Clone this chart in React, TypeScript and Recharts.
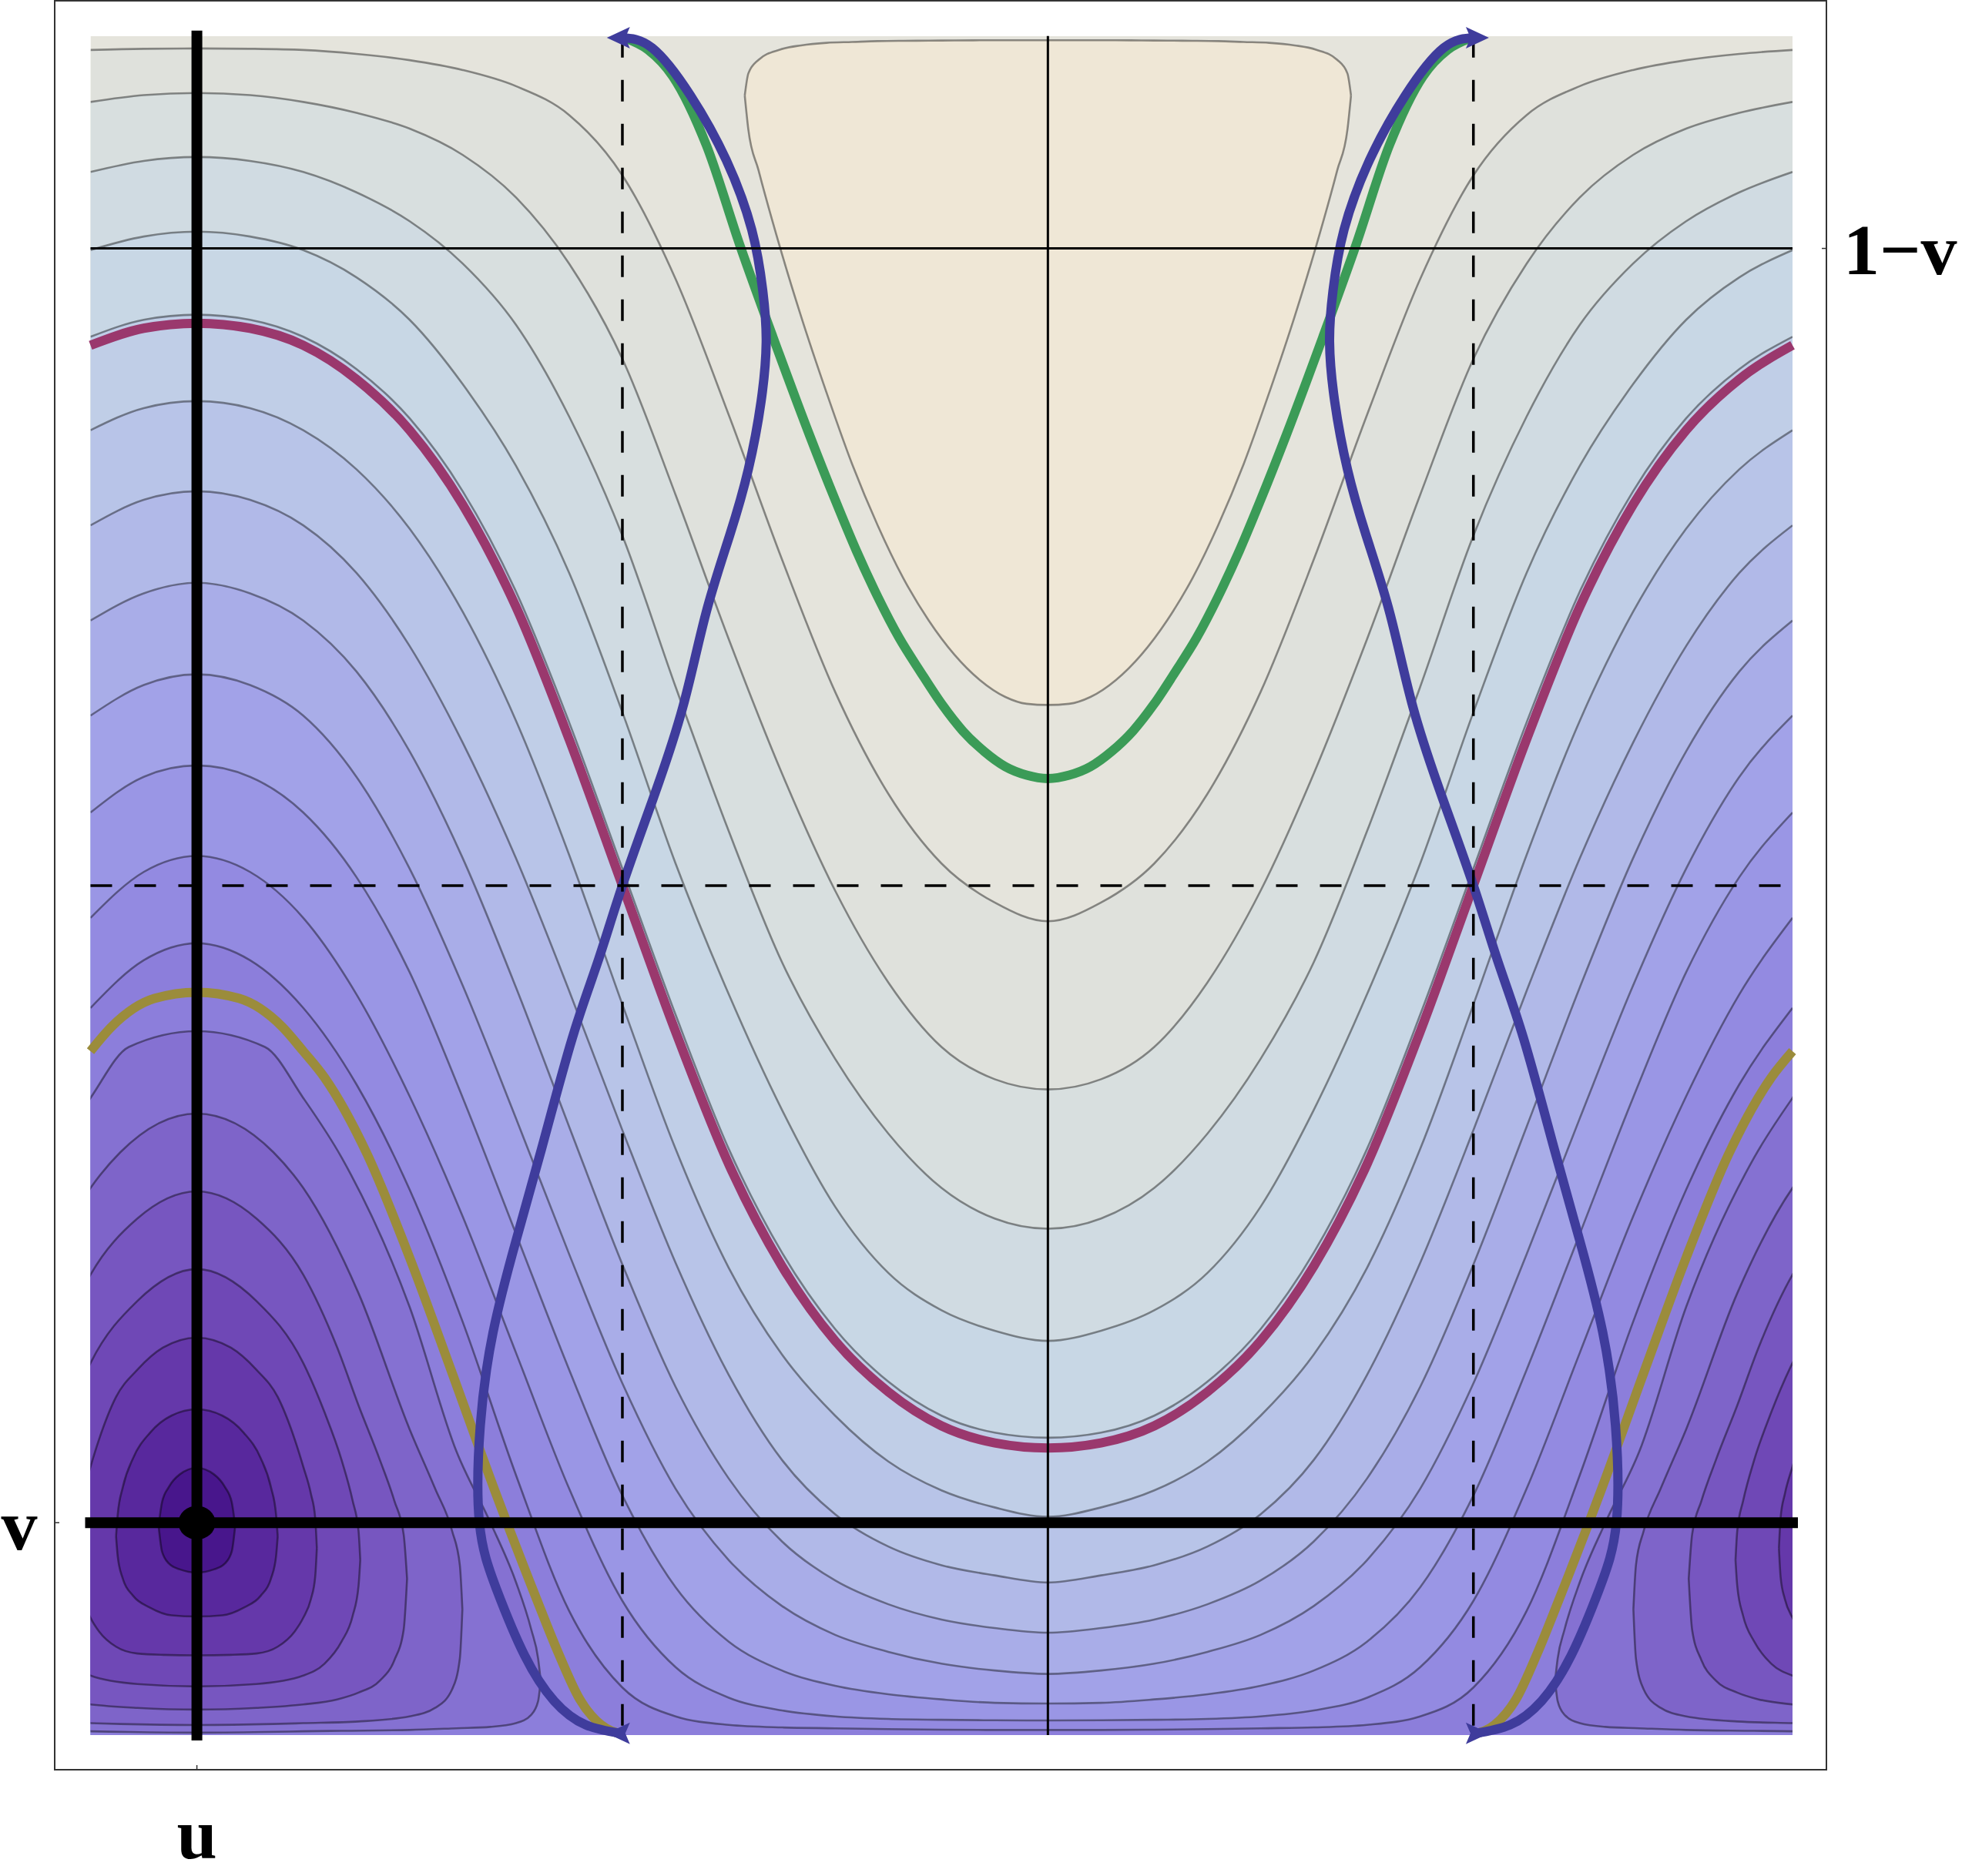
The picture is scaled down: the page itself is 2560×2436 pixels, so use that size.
import React from 'react';
import { ComposedChart, Area, Line, XAxis, YAxis, Scatter } from 'recharts';

// x is measured in units of pi from u (u = 0); y in [0, 1]; v = 1/8
const X_DOMAIN: [number, number] = [-0.125, 1.875];
const Y_DOMAIN: [number, number] = [0, 1];

const X_TICKS = [0];
const X_TICK_LABELS = ['u'];
const Y_TICKS_LEFT = [0.125];
const Y_LABELS_LEFT = ['v'];
const Y_TICKS_RIGHT = [0.875];
const Y_LABELS_RIGHT = ['1\u2212v'];

// sample positions of the open contour lines (0 .. 1, the curves are mirrored about x = 0 and x = 1)
const GRID_X = [0, 0.0625, 0.125, 0.1875, 0.25, 0.3125, 0.375, 0.4375, 0.5, 0.5625, 0.625, 0.6875, 0.75, 0.8125, 0.875, 0.9375, 1];

const C_L19 = [0.9927, 0.9925, 0.9918, 0.9895, 0.9858, 0.98, 0.9705, 0.9535, 0.918, 0.857, 0.777, 0.692, 0.614, 0.554, 0.513, 0.49, 0.479];
const C_L18 = [0.9665, 0.9652, 0.9612, 0.9548, 0.9455, 0.93, 0.905, 0.866, 0.81, 0.73, 0.645, 0.566, 0.497, 0.443, 0.405, 0.386, 0.38];
const C_L17 = [0.9288, 0.9265, 0.92, 0.908, 0.891, 0.866, 0.83, 0.776, 0.706, 0.617, 0.532, 0.455, 0.398, 0.354, 0.322, 0.304, 0.298];
const C_L16 = [0.8849, 0.882, 0.874, 0.858, 0.833, 0.795, 0.747, 0.684, 0.602, 0.513, 0.436, 0.368, 0.311, 0.272, 0.25, 0.238, 0.232];
const C_L15 = [0.836, 0.833, 0.823, 0.804, 0.775, 0.732, 0.673, 0.596, 0.51, 0.424, 0.345, 0.284, 0.239, 0.208, 0.188, 0.178, 0.175];
const C_L14 = [0.7851, 0.781, 0.768, 0.745, 0.71, 0.661, 0.597, 0.518, 0.43, 0.345, 0.275, 0.224, 0.188, 0.161, 0.144, 0.134, 0.1285];
const C_L13 = [0.7321, 0.727, 0.712, 0.684, 0.641, 0.584, 0.516, 0.438, 0.356, 0.278, 0.212, 0.162, 0.13, 0.111, 0.1, 0.094, 0.0898];
const C_L12 = [0.6782, 0.672, 0.656, 0.626, 0.579, 0.516, 0.44, 0.358, 0.277, 0.205, 0.151, 0.114, 0.091, 0.077, 0.068, 0.063, 0.0603];
const C_L11 = [0.6243, 0.618, 0.6, 0.564, 0.51, 0.441, 0.363, 0.283, 0.207, 0.145, 0.103, 0.076, 0.059, 0.049, 0.042, 0.038, 0.036];
const C_L10 = [0.5707, 0.564, 0.543, 0.505, 0.449, 0.375, 0.295, 0.215, 0.141, 0.087, 0.055, 0.038, 0.029, 0.024, 0.021, 0.019, 0.0186];
const C_L9 = [0.5174, 0.508, 0.481, 0.436, 0.376, 0.305, 0.225, 0.145, 0.079, 0.04, 0.022, 0.0145, 0.011, 0.0095, 0.009, 0.0087, 0.0086];
const C_L8 = [0.466, 0.456, 0.428, 0.383, 0.321, 0.243, 0.153, 0.073, 0.028, 0.011, 0.006, 0.0045, 0.004, 0.0035, 0.0032, 0.003, 0.003];

// magenta curve on the same grid
const MAGENTA = [0.831, 0.828, 0.818, 0.798, 0.768, 0.724, 0.664, 0.586, 0.5, 0.414, 0.336, 0.276, 0.232, 0.202, 0.182, 0.172, 0.169];

// closed contours round (u, v): [x, lower y, upper y], x >= 0 (last row is the right-hand tip)
const OV1 = [[0, 0.0956, 0.1573], [0.02, 0.0975, 0.1535], [0.033, 0.101, 0.146], [0.041, 0.108, 0.137], [0.045, 0.123, 0.123]];
const OV2 = [[0, 0.0698, 0.1917], [0.03, 0.0705, 0.188], [0.055, 0.075, 0.178], [0.075, 0.082, 0.163], [0.087, 0.092, 0.146], [0.093, 0.105, 0.13], [0.095, 0.117, 0.117]];
const OV3 = [[0, 0.0469, 0.2339], [0.04, 0.0472, 0.228], [0.07, 0.048, 0.215], [0.095, 0.052, 0.199], [0.115, 0.061, 0.174], [0.125, 0.069, 0.158], [0.134, 0.08, 0.142], [0.139, 0.093, 0.128], [0.141, 0.11, 0.11]];
const OV4 = [[0, 0.0286, 0.2743], [0.07, 0.03, 0.2555], [0.125, 0.035, 0.219], [0.15, 0.042, 0.19], [0.17, 0.055, 0.162], [0.183, 0.07, 0.138], [0.19, 0.088, 0.12], [0.192, 0.103, 0.103]];
const OV5 = [[0, 0.015, 0.32], [0.07, 0.016, 0.304], [0.125, 0.018, 0.271], [0.165, 0.021, 0.228], [0.19, 0.025, 0.194], [0.215, 0.032, 0.162], [0.232, 0.044, 0.138], [0.243, 0.062, 0.118], [0.247, 0.092, 0.092]];
const OV6 = [[0, 0.0059, 0.3658], [0.09, 0.0065, 0.343], [0.125, 0.007, 0.322], [0.19, 0.008, 0.26], [0.25, 0.011, 0.18], [0.28, 0.016, 0.145], [0.3, 0.027, 0.12], [0.309, 0.045, 0.1], [0.312, 0.074, 0.074]];
const OV7 = [[0, 0.0014, 0.4143], [0.08, 0.0018, 0.405], [0.125, 0.0022, 0.375], [0.17, 0.0025, 0.34], [0.25, 0.003, 0.252], [0.305, 0.004, 0.167], [0.345, 0.0048, 0.125], [0.375, 0.007, 0.09], [0.393, 0.012, 0.062], [0.401, 0.02, 0.045], [0.404, 0.032, 0.032]];

// beige closed region near the top (x <= 1, mirrored about x = 1)
const BEIGE_X = [0.6438, 0.648, 0.66, 0.685, 0.71, 0.74, 0.77, 0.8, 0.83, 0.86, 0.89, 0.92, 0.95, 0.975, 1];
const BEIGE_LO = [0.965, 0.945, 0.921, 0.876, 0.835, 0.79, 0.748, 0.712, 0.681, 0.656, 0.636, 0.621, 0.611, 0.607, 0.6063];
const BEIGE_HI = [0.965, 0.978, 0.986, 0.992, 0.9945, 0.996, 0.9965, 0.997, 0.9972, 0.9973, 0.9974, 0.9975, 0.9975, 0.9975, 0.9975];

// green curve (x <= 1, mirrored about x = 1)
const GREEN = [[0.5045, 0.9986], [0.53, 0.992], [0.5594, 0.9762], [0.5988, 0.9356], [0.638, 0.877], [0.677, 0.8227], [0.72, 0.765], [0.75, 0.727], [0.775, 0.697], [0.8, 0.67], [0.825, 0.646], [0.85, 0.626], [0.875, 0.607], [0.9, 0.591], [0.925, 0.579], [0.95, 0.57], [0.975, 0.565], [1, 0.563]];

// olive curve (x >= 0 half, mirrored about x = 0 and x = 2)
const OLIVE = [[0, 0.4372], [0.05, 0.4335], [0.1, 0.417], [0.125, 0.4025], [0.15, 0.387], [0.2, 0.342], [0.25, 0.281], [0.3, 0.213], [0.35, 0.144], [0.4, 0.079], [0.425, 0.048], [0.45, 0.021], [0.475, 0.006], [0.5, 0.0005]];

// blue trajectory, left branch (mirrored about x = 1 for the right branch)
const BLUE = [[0.498, 0.999], [0.535, 0.993], [0.58, 0.965], [0.622, 0.927], [0.652, 0.886], [0.665, 0.85], [0.669, 0.82], [0.663, 0.785], [0.648, 0.745], [0.626, 0.706], [0.598, 0.66], [0.571, 0.605], [0.536, 0.551], [0.5, 0.5], [0.471, 0.455], [0.441, 0.41], [0.405, 0.345], [0.375, 0.291], [0.348, 0.237], [0.333, 0.182], [0.332, 0.125], [0.352, 0.086], [0.385, 0.047], [0.42, 0.02], [0.457, 0.006], [0.498, 0.001]];

const BAND_COLORS = ['#48168c', '#58289d', '#6538aa', '#6f48b6', '#7756c0', '#7e64c9', '#8571d2', '#8c7edb', '#938ae1', '#9a96e5', '#a2a2e8', '#a9ade8', '#b1b9e8', '#b8c4e8', '#c0cee7', '#c8d7e5', '#d0dbe2', '#d8dfdf', '#dfe1dc', '#e5e4dc', '#efe7d6'];

const OPEN = [
  { v: C_L19, band: 18 }, { v: C_L18, band: 17 }, { v: C_L17, band: 16 }, { v: C_L16, band: 15 },
  { v: C_L15, band: 14 }, { v: C_L14, band: 13 }, { v: C_L13, band: 12 }, { v: C_L12, band: 11 },
  { v: C_L11, band: 10 }, { v: C_L10, band: 9 }, { v: C_L9, band: 8 }, { v: C_L8, band: 7 },
];
const OVALS = [
  { s: OV7, band: 6 }, { s: OV6, band: 5 }, { s: OV5, band: 4 }, { s: OV4, band: 3 },
  { s: OV3, band: 2 }, { s: OV2, band: 1 }, { s: OV1, band: 0 },
];

function fullCurve(vals: number[]) {
  const pts: { x: number; y: number }[] = [];
  pts.push({ x: -GRID_X[2], y: vals[2] });
  pts.push({ x: -GRID_X[1], y: vals[1] });
  GRID_X.forEach((x, i) => pts.push({ x, y: vals[i] }));
  for (let k = 1; k <= 14; k++) pts.push({ x: 1 + GRID_X[k], y: vals[16 - k] });
  return pts;
}

function ovalRange(s: number[][], c: number) {
  const pts: { x: number; r: number[] }[] = [];
  for (let i = s.length - 1; i >= 1; i--) pts.push({ x: c - s[i][0], r: [s[i][1], s[i][2]] });
  for (let i = 0; i < s.length; i++) pts.push({ x: c + s[i][0], r: [s[i][1], s[i][2]] });
  return pts;
}

function ovalBranch(s: number[][], c: number, col: number) {
  const pts: { x: number; y: number }[] = [];
  for (let i = s.length - 1; i >= 1; i--) pts.push({ x: c - s[i][0], y: s[i][col] });
  for (let i = 0; i < s.length; i++) pts.push({ x: c + s[i][0], y: s[i][col] });
  return pts;
}

function mirrored(xs: number[], ys: number[]) {
  const pts: { x: number; y: number }[] = [];
  xs.forEach((x, i) => pts.push({ x, y: ys[i] }));
  for (let i = xs.length - 2; i >= 0; i--) pts.push({ x: 2 - xs[i], y: ys[i] });
  return pts;
}

const beigeRange = (() => {
  const pts: { x: number; r: number[] }[] = [];
  BEIGE_X.forEach((x, i) => pts.push({ x, r: [BEIGE_LO[i], BEIGE_HI[i]] }));
  for (let i = BEIGE_X.length - 2; i >= 0; i--) pts.push({ x: 2 - BEIGE_X[i], r: [BEIGE_LO[i], BEIGE_HI[i]] });
  return pts;
})();
const beigeLower = mirrored(BEIGE_X, BEIGE_LO);
const beigeUpper = mirrored(BEIGE_X, BEIGE_HI);

const greenPts = mirrored(GREEN.map((p) => p[0]), GREEN.map((p) => p[1]));

const oliveLeft = (() => {
  const pts: { x: number; y: number }[] = [];
  for (let i = 3; i >= 1; i--) pts.push({ x: -OLIVE[i][0], y: OLIVE[i][1] });
  OLIVE.forEach(([x, y]) => pts.push({ x, y }));
  return pts;
})();
const oliveRight = OLIVE.filter(([x]) => x >= 0.125).map(([x, y]) => ({ x: 2 - x, y })).reverse();

const blueLeft = BLUE.map(([x, y]) => ({ x, y }));
const blueRight = BLUE.map(([x, y]) => ({ x: 2 - x, y }));

const bgArea = [{ x: X_DOMAIN[0], y: 1 }, { x: X_DOMAIN[1], y: 1 }];
const ARROWS = [
  { x: BLUE[0][0], y: BLUE[0][1] }, { x: 2 - BLUE[0][0], y: BLUE[0][1] },
  { x: BLUE[BLUE.length - 1][0], y: BLUE[BLUE.length - 1][1] }, { x: 2 - BLUE[BLUE.length - 1][0], y: BLUE[BLUE.length - 1][1] },
];
const MIN_POINT = [{ x: 0, y: 0.125 }];

const FONT = '"Liberation Serif", "Times New Roman", serif';
const FRAME = { left: 71, top: 1, right: 2371, bottom: 2298 };
const GREY = { stroke: '#000', strokeOpacity: 0.42, strokeWidth: 2.6 };
const FREE = { xAxisId: 'n', yAxisId: 'r' };

const XTick = (props: any) => {
  const { x, payload } = props;
  const i = X_TICKS.indexOf(payload.value);
  return (
    <g>
      <line x1={x} x2={x} y1={FRAME.bottom} y2={FRAME.bottom - 6} stroke="#333" strokeWidth={1.5} />
      <text x={x} y={2413} textAnchor="middle" fontFamily={FONT} fontWeight={700} fontSize={94} fill="#000">{X_TICK_LABELS[i]}</text>
    </g>
  );
};
const YTickLeft = (props: any) => {
  const { y, payload } = props;
  const i = Y_TICKS_LEFT.indexOf(payload.value);
  return (
    <g>
      <line x1={FRAME.left} x2={FRAME.left + 6} y1={y} y2={y} stroke="#333" strokeWidth={1.5} />
      <text x={25} y={y + 35} textAnchor="middle" fontFamily={FONT} fontWeight={700} fontSize={94} fill="#000">{Y_LABELS_LEFT[i]}</text>
    </g>
  );
};
const YTickRight = (props: any) => {
  const { y, payload } = props;
  const i = Y_TICKS_RIGHT.indexOf(payload.value);
  return (
    <g>
      <line x1={FRAME.right} x2={FRAME.right - 6} y1={y} y2={y} stroke="#333" strokeWidth={1.5} />
      <text x={2393} y={y + 33} textAnchor="start" fontFamily={FONT} fontWeight={700} fontSize={94} fill="#000">{Y_LABELS_RIGHT[i]}</text>
    </g>
  );
};

const ArrowShape = (p: any) => {
  const { cx, cy, payload } = p;
  const d = payload.x < 1 ? -1 : 1;
  const pts = `${cx + d * 18},${cy} ${cx - d * 12},${cy - 14} ${cx - d * 6},${cy} ${cx - d * 12},${cy + 14}`;
  return <polygon points={pts} fill="#3f3c9c" />;
};
const DotShape = (p: any) => <ellipse cx={p.cx} cy={p.cy} rx={24} ry={22} fill="#000" />;

export default function App() {
  const common = { isAnimationActive: false, dot: false, activeDot: false } as any;
  return (
    <div style={{ position: 'absolute', left: 0, top: 0, width: 2560, height: 2436, background: '#fff' }}>
      <ComposedChart width={2560} height={2436} margin={{ top: 46.8, right: 0, bottom: 0, left: 0 }}>
        <XAxis type="number" dataKey="x" domain={X_DOMAIN} allowDataOverflow ticks={X_TICKS} interval={0}
          height={183} axisLine={false} tickLine={false} tick={<XTick />} />
        <XAxis xAxisId="n" type="number" dataKey="x" domain={X_DOMAIN} hide />
        <YAxis type="number" domain={Y_DOMAIN} allowDataOverflow ticks={Y_TICKS_LEFT} interval={0}
          width={117.5} axisLine={false} tickLine={false} tick={<YTickLeft />} />
        <YAxis yAxisId="r" orientation="right" type="number" domain={Y_DOMAIN} ticks={Y_TICKS_RIGHT}
          interval={0} width={233} axisLine={false} tickLine={false} tick={<YTickRight />} />

        <Area {...common} data={bgArea} dataKey="y" type="linear" baseValue={0} fill={BAND_COLORS[19]} fillOpacity={1} stroke="none" />
        {OPEN.map((c, i) => (
          <Area key={`oa${i}`} {...common} data={fullCurve(c.v)} dataKey="y" type="monotone" baseValue={0}
            fill={BAND_COLORS[c.band]} fillOpacity={1} stroke="none" />
        ))}
        <Area {...common} data={beigeRange} dataKey="r" type="monotone" fill={BAND_COLORS[20]} fillOpacity={1} stroke="none" />
        {OVALS.map((o, i) => (
          <Area key={`ovl${i}`} {...common} data={ovalRange(o.s, 0)} dataKey="r" type="monotone"
            fill={BAND_COLORS[o.band]} fillOpacity={1} stroke="none" />
        ))}
        {OVALS.map((o, i) => (
          <Area key={`ovr${i}`} {...common} data={ovalRange(o.s, 2)} dataKey="r" type="monotone"
            fill={BAND_COLORS[o.band]} fillOpacity={1} stroke="none" />
        ))}

        {OPEN.map((c, i) => (
          <Line key={`ol${i}`} {...common} data={fullCurve(c.v)} dataKey="y" type="monotone" {...GREY} />
        ))}
        <Line {...common} data={beigeLower} dataKey="y" type="monotone" {...GREY} />
        <Line {...common} data={beigeUpper} dataKey="y" type="monotone" {...GREY} />
        {OVALS.map((o, i) => [0, 2].map((c) => [1, 2].map((col) => (
          <Line key={`ob${i}-${c}-${col}`} {...common} data={ovalBranch(o.s, c, col)} dataKey="y" type="monotone" {...GREY} />
        ))))}

        <Line {...common} {...FREE} data={greenPts} dataKey="y" type="monotone" stroke="#3b9b57" strokeWidth={12} />
        <Line {...common} {...FREE} data={fullCurve(MAGENTA)} dataKey="y" type="monotone" stroke="#9a386d" strokeWidth={12} />
        <Line {...common} {...FREE} data={oliveLeft} dataKey="y" type="monotone" stroke="#9b8c3b" strokeWidth={12} />
        <Line {...common} {...FREE} data={oliveRight} dataKey="y" type="monotone" stroke="#9b8c3b" strokeWidth={12} />
        <Line {...common} {...FREE} data={blueLeft} dataKey="y" type="natural" stroke="#3f3c9c" strokeWidth={12} />
        <Line {...common} {...FREE} data={blueRight} dataKey="y" type="natural" stroke="#3f3c9c" strokeWidth={12} />

        <Line {...common} {...FREE} data={[{ x: 1, y: 0 }, { x: 1, y: 1 }]} dataKey="y" type="linear" stroke="#000" strokeWidth={3} />
        <Line {...common} {...FREE} data={[{ x: X_DOMAIN[0], y: 0.875 }, { x: X_DOMAIN[1], y: 0.875 }]} dataKey="y" type="linear" stroke="#000" strokeWidth={3} />
        <Line {...common} {...FREE} data={[{ x: 0.5, y: 1 }, { x: 0.5, y: 0 }]} dataKey="y" type="linear" stroke="#000" strokeWidth={3.5} strokeDasharray="28 29" />
        <Line {...common} {...FREE} data={[{ x: 1.5, y: 1 }, { x: 1.5, y: 0 }]} dataKey="y" type="linear" stroke="#000" strokeWidth={3.5} strokeDasharray="28 29" />
        <Line {...common} {...FREE} data={[{ x: X_DOMAIN[0], y: 0.5 }, { x: X_DOMAIN[1], y: 0.5 }]} dataKey="y" type="linear" stroke="#000" strokeWidth={3.5} strokeDasharray="28 29" />
        <Line {...common} {...FREE} data={[{ x: 0, y: 0 }, { x: 0, y: 1 }]} dataKey="y" type="linear" stroke="#000" strokeWidth={14} strokeLinecap="square" />
        <Line {...common} {...FREE} data={[{ x: X_DOMAIN[0], y: 0.125 }, { x: X_DOMAIN[1], y: 0.125 }]} dataKey="y" type="linear" stroke="#000" strokeWidth={14} strokeLinecap="square" />

        <Scatter {...FREE} data={ARROWS} dataKey="y" isAnimationActive={false} shape={<ArrowShape />} />
        <Scatter {...FREE} data={MIN_POINT} dataKey="y" isAnimationActive={false} shape={<DotShape />} />
      </ComposedChart>
      <div style={{ position: 'absolute', left: FRAME.left - 1, top: FRAME.top - 1, width: FRAME.right - FRAME.left + 2, height: FRAME.bottom - FRAME.top + 2, border: '2px solid #333', boxSizing: 'border-box', pointerEvents: 'none' }} />
    </div>
  );
}
